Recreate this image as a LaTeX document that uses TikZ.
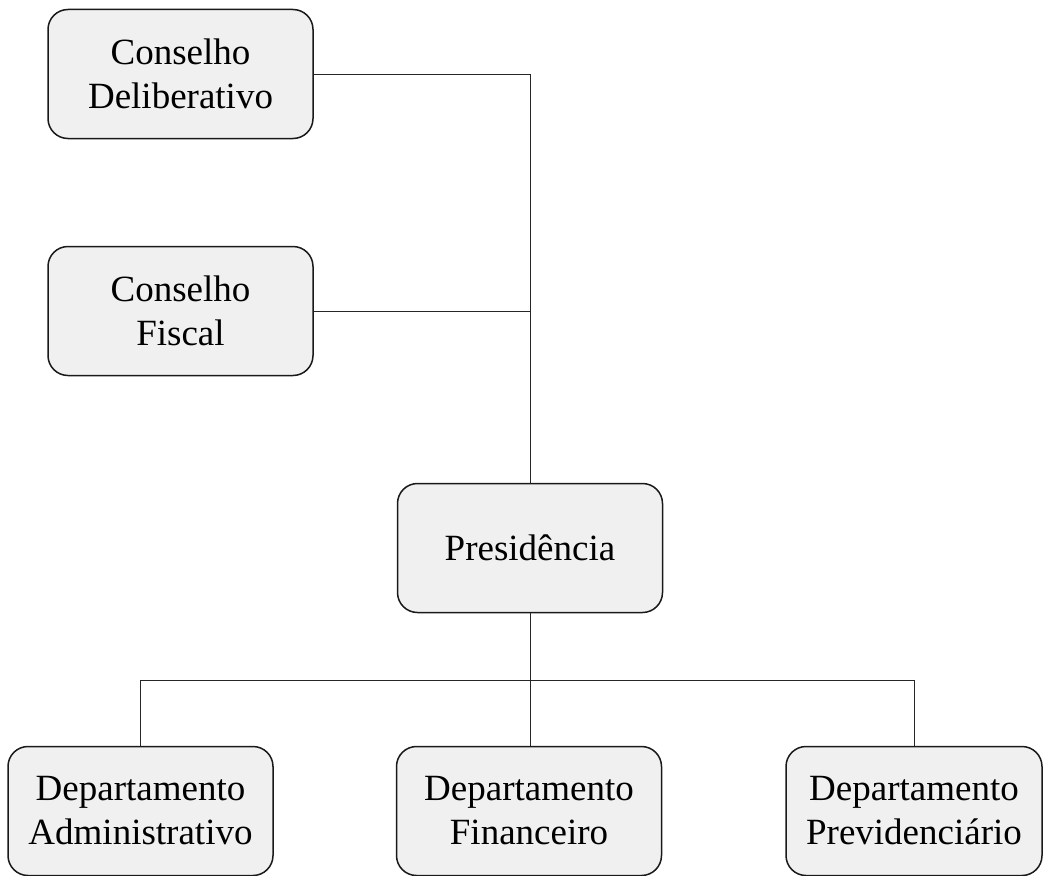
\documentclass[tikz,border=0pt]{standalone}
\usepackage{fontspec}
\setmainfont{Liberation Serif}
\usetikzlibrary{positioning}

\tikzset{caixa/.style={draw=black!90, line width=1.5pt, fill=black!6, rounded corners=20pt,
    align=center, inner sep=0pt, minimum width=265pt, minimum height=129pt,
    font=\fontsize{37}{44}\selectfont},
  linha/.style={draw=black!85, line width=0.9pt}}

\begin{document}
\begin{tikzpicture}[x=1pt,y=-1pt]
    \useasboundingbox (0,0) rectangle (1043,875);

    \node[caixa] (delib) at (180.5,74) {Conselho\\Deliberativo};
    \node[caixa] (fiscal) at (180.5,311) {Conselho\\Fiscal};
    \node[caixa] (pres) at (530,548) {Presidência};

    \node[caixa] (adm) at (140.5,811) {Departamento\\Administrativo};
    \node[caixa] (fin) at (529,811) {Departamento\\Financeiro};
    \node[caixa, minimum width=256pt] (prev) at (914,811) {Departamento\\Previdenciário};

%    conselhos -> presidencia
    \draw[linha] (delib.east) -| (pres.north);
    \draw[linha] (fiscal.east) -- (fiscal.east -| pres.north);

%    presidencia -> departamentos
    \coordinate (barra) at (530,680);
    \draw[linha] (pres.south) -- (barra);
    \draw[linha] (barra) -- (barra |- fin.north);
    \draw[linha] (adm.north) |- (barra -| prev.north) -- (prev.north);

\end{tikzpicture}
\end{document}
